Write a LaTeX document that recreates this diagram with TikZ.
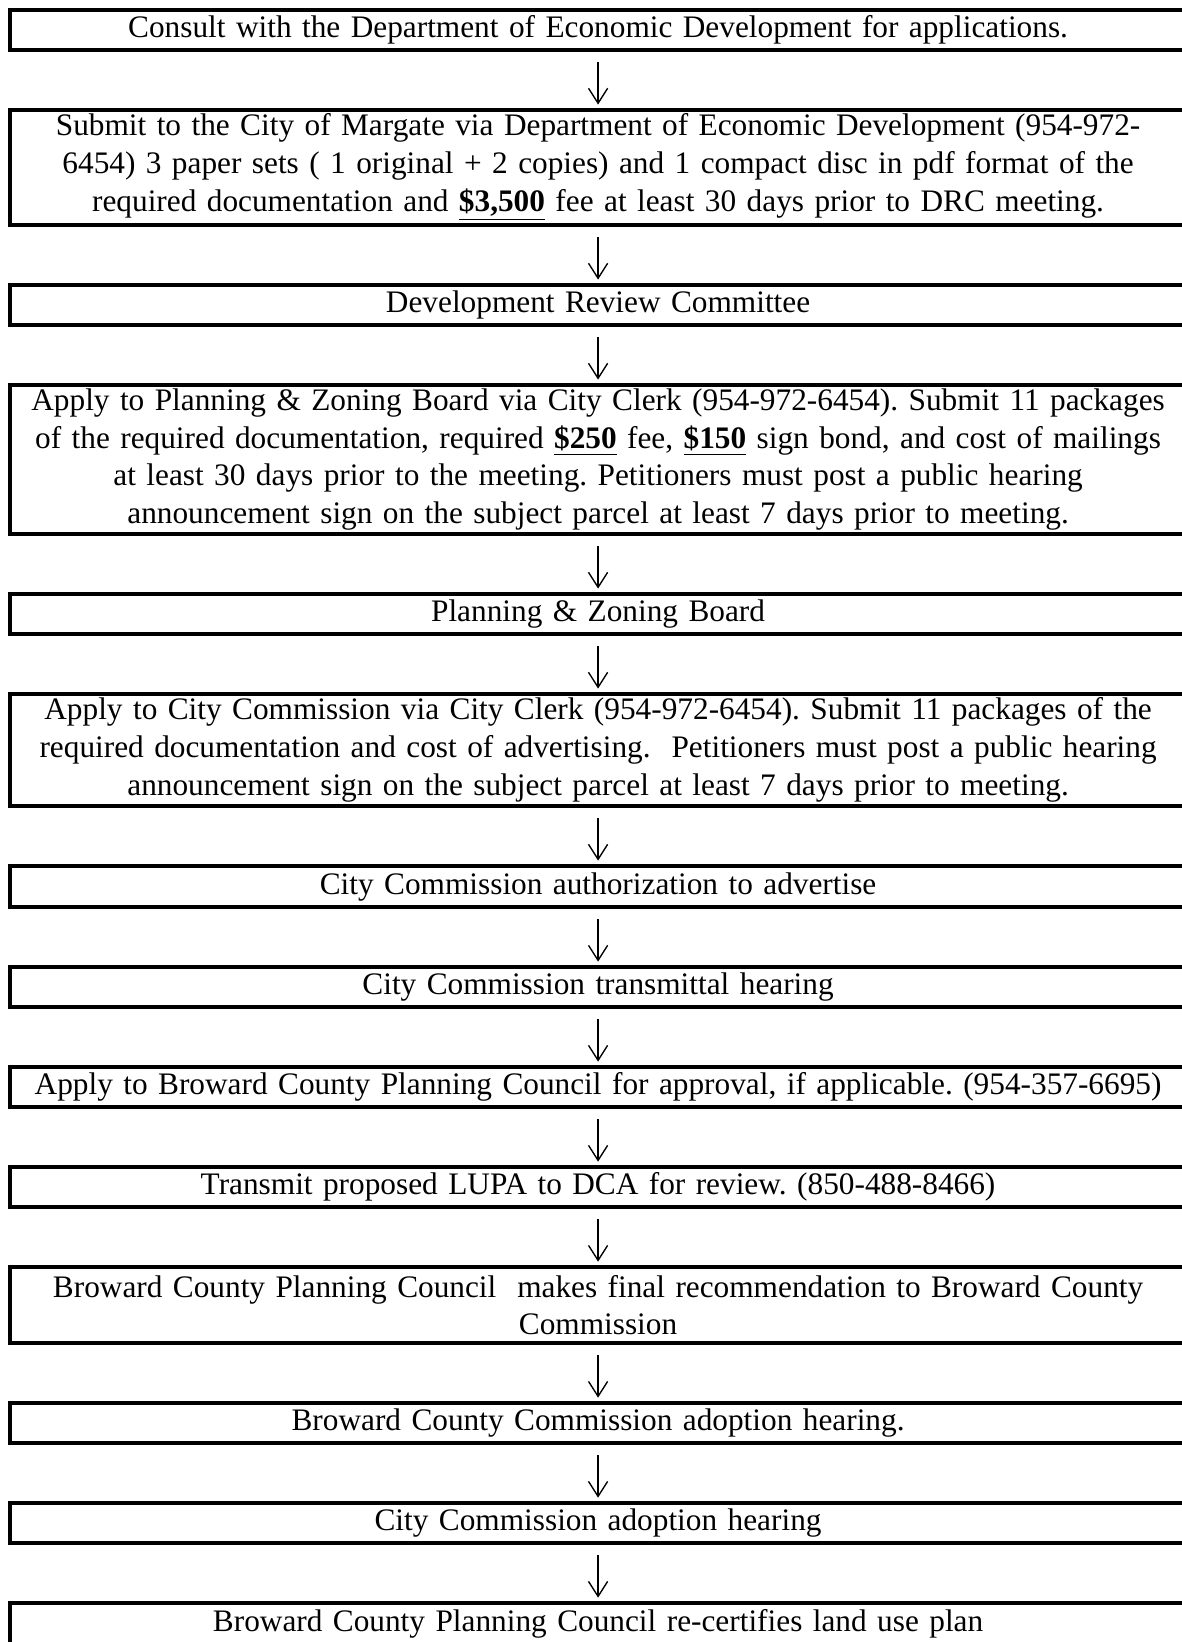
\documentclass[tikz,border=0pt]{standalone}
\usepackage{fontspec}
\setmainfont{Liberation Serif}
\usetikzlibrary{positioning}
\usetikzlibrary{arrows.meta}

\tikzset{
    stepbox/.style={draw=black, line width=1.46pt, outer sep=0pt, inner xsep=2pt, inner ysep=0pt,
        text width=426pt, align=center, minimum height=14.63pt,
        font=\fontsize{11.45pt}{13.8pt}\selectfont\frenchspacing},
    flow/.style={-{Straight Barb[length=5.5pt,width=7pt]}, line width=0.5pt,
        shorten <=4.4pt, shorten >=2pt}
}

\begin{document}
\begin{tikzpicture}[node distance=21.95pt]
    \useasboundingbox (0,0) rectangle (432pt,-600.6pt);

    \node[stepbox, anchor=north] (consult) at (218.76pt,-3.66pt)
        {Consult with the Department of Economic Development for applications.};
    \node[stepbox, minimum height=42.07pt, below=of consult] (submit)
        {Submit to the City of Margate via Department of Economic Development (954-972-\\
         6454) 3 paper sets ( 1 original + 2 copies) and 1 compact disc in pdf format of the\\
         required documentation and \textbf{\underline{\$3,500}} fee at least 30 days prior to DRC meeting.};
    \node[stepbox, below=of submit] (drc) {Development Review Committee};
    \node[stepbox, minimum height=54.5pt, below=of drc] (applypz)
        {Apply to Planning \& Zoning Board via City Clerk (954-972-6454). Submit 11 packages\\
         of the required documentation, required \textbf{\underline{\$250}} fee, \textbf{\underline{\$150}} sign bond, and cost of mailings\\
         at least 30 days prior to the meeting. Petitioners must post a public hearing\\
         announcement sign on the subject parcel at least 7 days prior to meeting.};
    \node[stepbox, below=of applypz] (pzboard) {Planning \& Zoning Board};
    \node[stepbox, minimum height=40.97pt, below=of pzboard] (applycc)
        {Apply to City Commission via City Clerk (954-972-6454). Submit 11 packages of the\\
         required documentation and cost of advertising.\ \ Petitioners must post a public hearing\\
         announcement sign on the subject parcel at least 7 days prior to meeting.};
    \node[stepbox, minimum height=15pt, below=of applycc] (ccauth) {City Commission authorization to advertise};
    \node[stepbox, below=of ccauth] (cctrans) {City Commission transmittal hearing};
    \node[stepbox, below=of cctrans] (applybcpc)
        {Apply to Broward County Planning Council for approval, if applicable. (954-357-6695)};
    \node[stepbox, below=of applybcpc] (transmit) {Transmit proposed LUPA to DCA for review. (850-488-8466)};
    \node[stepbox, minimum height=27.8pt, below=of transmit] (bcpcrec)
        {Broward County Planning Council\ \ makes final recommendation to Broward County\\
         Commission};
    \node[stepbox, below=of bcpcrec] (bccadopt) {Broward County Commission adoption hearing.};
    \node[stepbox, below=of bccadopt] (ccadopt) {City Commission adoption hearing};
    \node[stepbox, minimum height=15.36pt, below=of ccadopt] (recert)
        {Broward County Planning Council re-certifies land use plan};

    \foreach \a/\b in {consult/submit, submit/drc, drc/applypz, applypz/pzboard, pzboard/applycc,
        applycc/ccauth, ccauth/cctrans, cctrans/applybcpc, applybcpc/transmit, transmit/bcpcrec,
        bcpcrec/bccadopt, bccadopt/ccadopt, ccadopt/recert}
        \draw[flow] (\a) -- (\b);
\end{tikzpicture}
\end{document}
